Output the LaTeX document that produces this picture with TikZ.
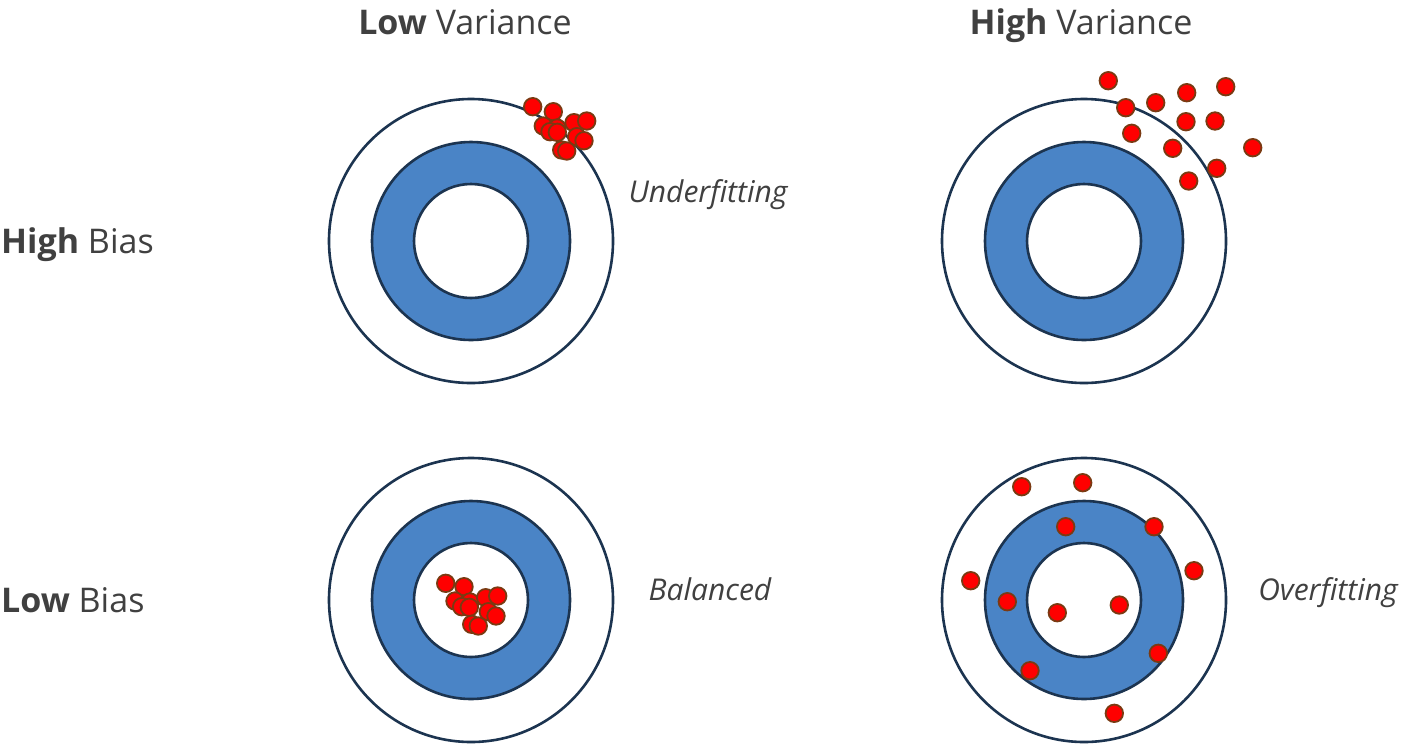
\documentclass[tikz,border=0pt]{standalone}
\usepackage{fontspec}
\setmainfont{Open Sans}
\definecolor{txt}{HTML}{404040}
\definecolor{ringline}{HTML}{1C3450}
\definecolor{ringblue}{HTML}{4A84C6}
\definecolor{dotred}{HTML}{FF0000}
\definecolor{dotedge}{HTML}{7A3A12}
\begin{document}
\begin{tikzpicture}[x=1pt,y=-1pt,
  lbl/.style={text=txt,font=\fontsize{34}{40}\selectfont,inner sep=0pt},
  side/.style={text=txt,font=\fontsize{30}{36}\selectfont\itshape,inner sep=0pt},
  dot/.style={circle,fill=dotred,draw=dotedge,line width=1.8pt,minimum size=17.5pt,inner sep=0pt}]
\useasboundingbox[fill=white] (0,0) rectangle (1402,748);
\newcommand{\target}[2]{%
  \draw[ringline,line width=2.6pt,fill=white] (#1,#2) circle[radius=142];
  \draw[ringline,line width=2.6pt,fill=ringblue] (#1,#2) circle[radius=99];
  \draw[ringline,line width=2.6pt,fill=white] (#1,#2) circle[radius=57];
}
\target{471}{241}
\target{1084}{241}
\target{471}{600}
\target{1084}{600}
% labels
\node[lbl,anchor=base] (lv) at (465,34) {\textbf{Low} Variance};
\node[lbl,anchor=base] (hv) at (1081,34) {\textbf{High} Variance};
\node[lbl,anchor=base west] (hb) at (1,253) {\textbf{High} Bias};
\node[lbl,anchor=base west] (lb) at (1,612) {\textbf{Low} Bias};
\node[side,anchor=base] (uf) at (708,202) {Underfitting};
\node[side,anchor=base] (bal) at (710,600) {Balanced};
\node[side,anchor=base] (of) at (1328,600) {Overfitting};
% top-left cluster
\foreach \x/\y [count=\i] in {532.7/106.7,553.3/111.7,543.3/126,557/128,550/131.7,557.3/132.3,574/122.7,586.7/121,576.7/136.7,584/140.7,561.7/150,566.7/151}
  \node[dot] (tl\i) at (\x,\y) {};
% top-right
\foreach \x/\y [count=\i] in {1108.3/80.7,1125.7/107.7,1155.7/102.7,1186.7/92.7,1225.7/86.7,1186/121.7,1215/121,1131.7/133.3,1172.7/148.3,1252.7/147.7,1216.7/168.3,1188.7/181}
  \node[dot] (tr\i) at (\x,\y) {};
% bottom-left cluster
\foreach \x/\y [count=\i] in {445.7/583.3,464/586.7,455/601,470/602,461.7/606.7,469.3/607.3,485.7/597.7,497.7/596,488.3/611.7,496/616,471.7/624.3,478.3/626}
  \node[dot] (bl\i) at (\x,\y) {};
% bottom-right
\foreach \x/\y [count=\i] in {1021.7/486.7,1082.7/482.7,1065.7/526.7,1154/526.7,1194/570.7,970.7/580.7,1007.3/601.7,1057.3/612.7,1119.3/605,1158.3/653.3,1030/670.7,1114.3/713.3}
  \node[dot] (br\i) at (\x,\y) {};
\end{tikzpicture}
\end{document}
